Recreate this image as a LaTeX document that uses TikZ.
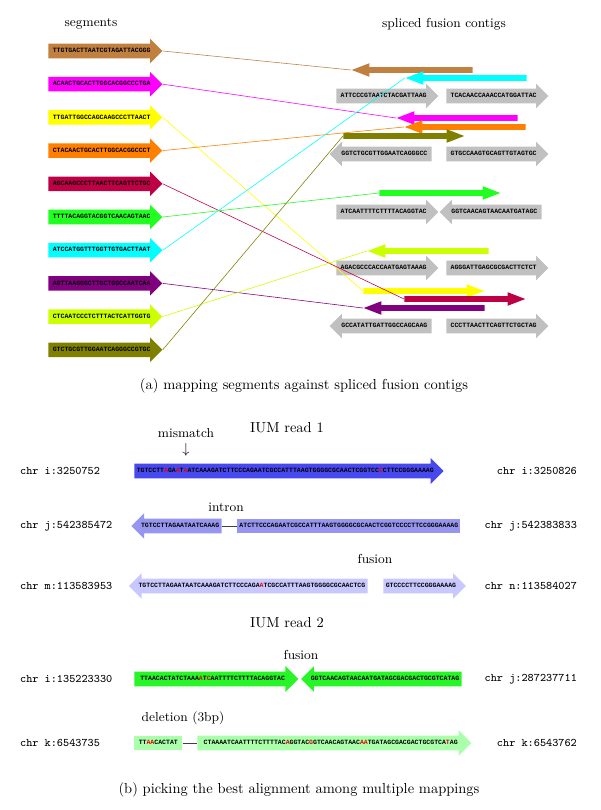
\documentclass[tikz,border=0pt]{standalone}
\usepackage{fontspec}
\usepackage{amsmath}
\usepackage{amssymb}
\usepackage{tikz}
\usetikzlibrary{shapes.arrows,positioning}
\newfontfamily\dnafont{Liberation Mono}

\definecolor{cbrown}{RGB}{192,128,64}
\definecolor{cmagenta}{RGB}{255,0,255}
\definecolor{cyellow}{RGB}{255,255,0}
\definecolor{corange}{RGB}{255,128,0}
\definecolor{ccrimson}{RGB}{190,0,70}
\definecolor{cgreen}{RGB}{32,255,32}
\definecolor{ccyan}{RGB}{0,255,255}
\definecolor{cpurple}{RGB}{128,0,128}
\definecolor{clime}{RGB}{204,255,0}
\definecolor{colive}{RGB}{128,128,0}
\definecolor{cgray}{RGB}{192,192,192}
\definecolor{rblue}{RGB}{72,72,240}
\definecolor{rmid}{RGB}{150,150,240}
\definecolor{rpale}{RGB}{200,200,255}
\definecolor{rgreen}{RGB}{40,245,40}
\definecolor{rpalegreen}{RGB}{170,255,170}
\definecolor{mmred}{RGB}{230,0,0}

\newcommand{\diffbase}[1]{\textcolor{mmred}{#1}}

\begin{document}
\begin{tikzpicture}[x=0.691pt,y=-0.691pt,node distance=22.94pt,
  dna/.style={font=\dnafont\bfseries\fontsize{4.5}{5}\selectfont},
  seq arrow/.style={single arrow,fill=#1,draw=none,dna,
    inner xsep=1.5pt,inner ysep=2.73pt,text height=3.3pt,text depth=0.9pt,
    single arrow head extend=3.45pt,anchor=tail},
  back/.style={shape border rotate=180},
  seq box/.style={rectangle,fill=#1,draw=none,dna,
    inner xsep=1.5pt,inner ysep=2.73pt,text height=3.3pt,text depth=0.9pt},
  seg node/.style={seq arrow=#1,minimum height=78.8pt},
  contig node/.style={seq arrow=cgray,minimum height=70.5pt},
  hit node/.style={single arrow,fill=#1,draw=none,inner xsep=0pt,inner ysep=1.73pt,
    text height=0pt,text depth=0pt,single arrow head extend=2.76pt,
    single arrow tip angle=42,minimum height=83.6pt,anchor=tail},
  read node/.style={seq arrow=#1,single arrow head extend=3.8pt},
  chr/.style={font=\ttfamily\footnotesize},
  link/.style={draw=#1,line width=0.4pt},
  gap line/.style={draw=black!75,line width=0.4pt}]

  \useasboundingbox (0,0) rectangle (600,810);

  % (a) segments against contigs
  \node (segtitle) at (91,24) {\small segments};
  \node (contitle) at (444,24) {\small spliced fusion contigs};

  \node[seg node=cbrown] (s1) at (48,51) {TTGTGACTTAATCGTAGATTACGGG};
  \node[seg node=cmagenta] (s2) [below of=s1] {ACAACTGCACTTGGCACGGCCCTGA};
  \node[seg node=cyellow] (s3) [below of=s2] {TTGATTGGCCAGCAAGCCCTTAACT};
  \node[seg node=corange] (s4) [below of=s3] {CTACAACTGCACTTGGCACGGCCCT};
  \node[seg node=ccrimson] (s5) [below of=s4] {AGCAAGCCCTTAACTTCAGTTCTGC};
  \node[seg node=cgreen] (s6) [below of=s5] {TTTTACAGGTACGGTCAACAGTAAC};
  \node[seg node=ccyan] (s7) [below of=s6] {ATCCATGGTTTGGTTGTGACTTAAT};
  \node[seg node=cpurple] (s8) [below of=s7] {AGTTAAGGGCTTGCTGGCCAATCAA};
  \node[seg node=clime] (s9) [below of=s8] {CTCAATCCCTCTTTACTCATTGGTG};
  \node[seg node=colive] (s10) [below of=s9] {GTCTGCGTTGGAATCAGGGCCGTGC};

  \node[contig node] (c1a) at (336,96) {ATTCCCGTAATCTACGATTAAG};
  \node[contig node] (c1b) at (446,96) {TCACAACCAAACCATGGATTAC};
  \node[contig node,back] (c2a) at (432,154) {GGTCTGCGTTGGAATCAGGGCC};
  \node[contig node] (c2b) at (446,154) {GTGCCAAGTGCAGTTGTAGTGC};
  \node[contig node] (c3a) at (336,212) {ATCAATTTTCTTTTACAGGTAC};
  \node[contig node,back] (c3b) at (542,212) {GGTCAACAGTAACAATGATAGC};
  \node[contig node] (c4a) at (336,268) {AGACGCCCACCAATGAGTAAAG};
  \node[contig node] (c4b) at (446,268) {AGGGATTGAGCGCGACTTCTCT};
  \node[contig node,back] (c5a) at (432,326) {GCCATATTGATTGGCCAGCAAG};
  \node[contig node] (c5b) at (446,326) {CCCTTAACTTCAGTTCTGCTAG};

  \node[hit node=cbrown,back] (hbrown) at (473,70) {};
  \node[hit node=ccyan,back] (hcyan) at (527,78) {};
  \node[hit node=cmagenta,back] (hmagenta) at (518,118) {};
  \node[hit node=corange,back] (horange) at (526,127) {};
  \node[hit node=colive] (holive) at (343,136) {};
  \node[hit node=cgreen] (hgreen) at (379,193) {};
  \node[hit node=clime,back] (hlime) at (489,251) {};
  \node[hit node=cyellow] (hyellow) at (363,291) {};
  \node[hit node=ccrimson] (hcrimson) at (404,299) {};
  \node[hit node=cpurple,back] (hpurple) at (485,308) {};

  \path
    (s1.tip) edge[link=cbrown] (hbrown.tip)
    (s2.tip) edge[link=cmagenta] (hmagenta.tip)
    (s3.tip) edge[link=cyellow] (hyellow.tail)
    (s4.tip) edge[link=corange] (horange.tip)
    (s5.tip) edge[link=ccrimson] (hcrimson.tail)
    (s6.tip) edge[link=cgreen] (hgreen.tail)
    (s7.tip) edge[link=ccyan] (hcyan.tip)
    (s8.tip) edge[link=cpurple] (hpurple.tip)
    (s9.tip) edge[link=clime] (hlime.tip)
    (s10.tip) edge[link=colive] (holive.tail);

  \node (capa) at (304,386) {(a) mapping segments against spliced fusion contigs};

  % (b) read 1
  \node (read1) at (287,428) {IUM read 1};
  \node (mism) at (186,433) {\small mismatch};
  \node[below=-3pt of mism] (mismdown) {$\downarrow$};

  \node[chr,anchor=west] (l1) at (15,471) {chr i:3250752};
  \node[read node=rblue] (r1) at (134,471)
    {TGTCCTT\diffbase{A}GA\diffbase{A}T\diffbase{A}ATCAAAGATCTTCCCAGAATCGCCATTTAAGTGGGGCGCAACTCGGTCC\diffbase{C}CTTCCGGGAAAAG};
  \node[chr,anchor=east] (e1) at (582,471) {chr i:3250826};

  \node (intron) at (226,507) {\small intron};
  \node[chr,anchor=west] (l2) at (15,526) {chr j:542385472};
  \node[read node=rmid,back] (r2a) at (222,526) {TGTCCTTAGAATAATCAAAG};
  \node[seq box=rmid,anchor=west] (r2b) at (237,526)
    {ATCTTCCCAGAATCGCCATTTAAGTGGGGCGCAACTCGGTCCCCTTCCGGGAAAAG};
  \draw[gap line] (r2a.tail) -- (r2b.west);
  \node[chr,anchor=east] (e2) at (582,526) {chr j:542383833};

  \node (fusion1) at (375,559) {\small fusion};
  \node[chr,anchor=west] (l3) at (15,586) {chr m:113583953};
  \node[read node=rpale,back] (r3a) at (368,586)
    {TGTCCTTAGAATAATCAAAGATCTTCCCAGA\diffbase{A}TCGCCATTTAAGTGGGGCGCAACTCG};
  \node[read node=rpale] (r3b) at (383,586) {GTCCCCTTCCGGGAAAAG};
  \node[chr,anchor=east] (e3) at (582,586) {chr n:113584027};

  % (b) read 2
  \node (read2) at (287,623) {IUM read 2};
  \node (fusion2) at (301,655) {\small fusion};
  \node[chr,anchor=west] (l4) at (15,679) {chr i:135223330};
  \node[read node=rgreen,minimum height=113.3pt] (r4a) at (134,679)
    {TTAACACTATCTAAA\diffbase{A}T\diffbase{C}AATTTTCTTTTACAGGTAC};
  \node[read node=rgreen,back] (r4b) at (462,679) {GGTCAACAGTAACAATGATAGCGACGACTGCGTCATAG};
  \node[chr,anchor=east] (e4) at (582,679) {chr j:287237711};

  \node (deletion) at (183,718) {\small deletion (3bp)};
  \node[chr,anchor=west] (l5) at (15,743) {chr k:6543735};
  \node[seq box=rpalegreen,anchor=west,minimum width=33.2pt] (r5a) at (134,743)
    {TT\diffbase{AA}CACTAT};
  \node[read node=rpalegreen,minimum height=189.4pt] (r5b) at (197,743)
    {CTAAAATCAATTTTCTTTTAC\diffbase{A}GGTAC\diffbase{G}GTCAACAGTAAC\diffbase{AA}TGATAGCGACGACTGCGTCA\diffbase{T}AG};
  \draw[gap line] (r5a.east) -- (r5b.tail);
  \node[chr,anchor=east] (e5) at (582,743) {chr k:6543762};

  \node (capb) at (299,790) {(b) picking the best alignment among multiple mappings};
\end{tikzpicture}
\end{document}
